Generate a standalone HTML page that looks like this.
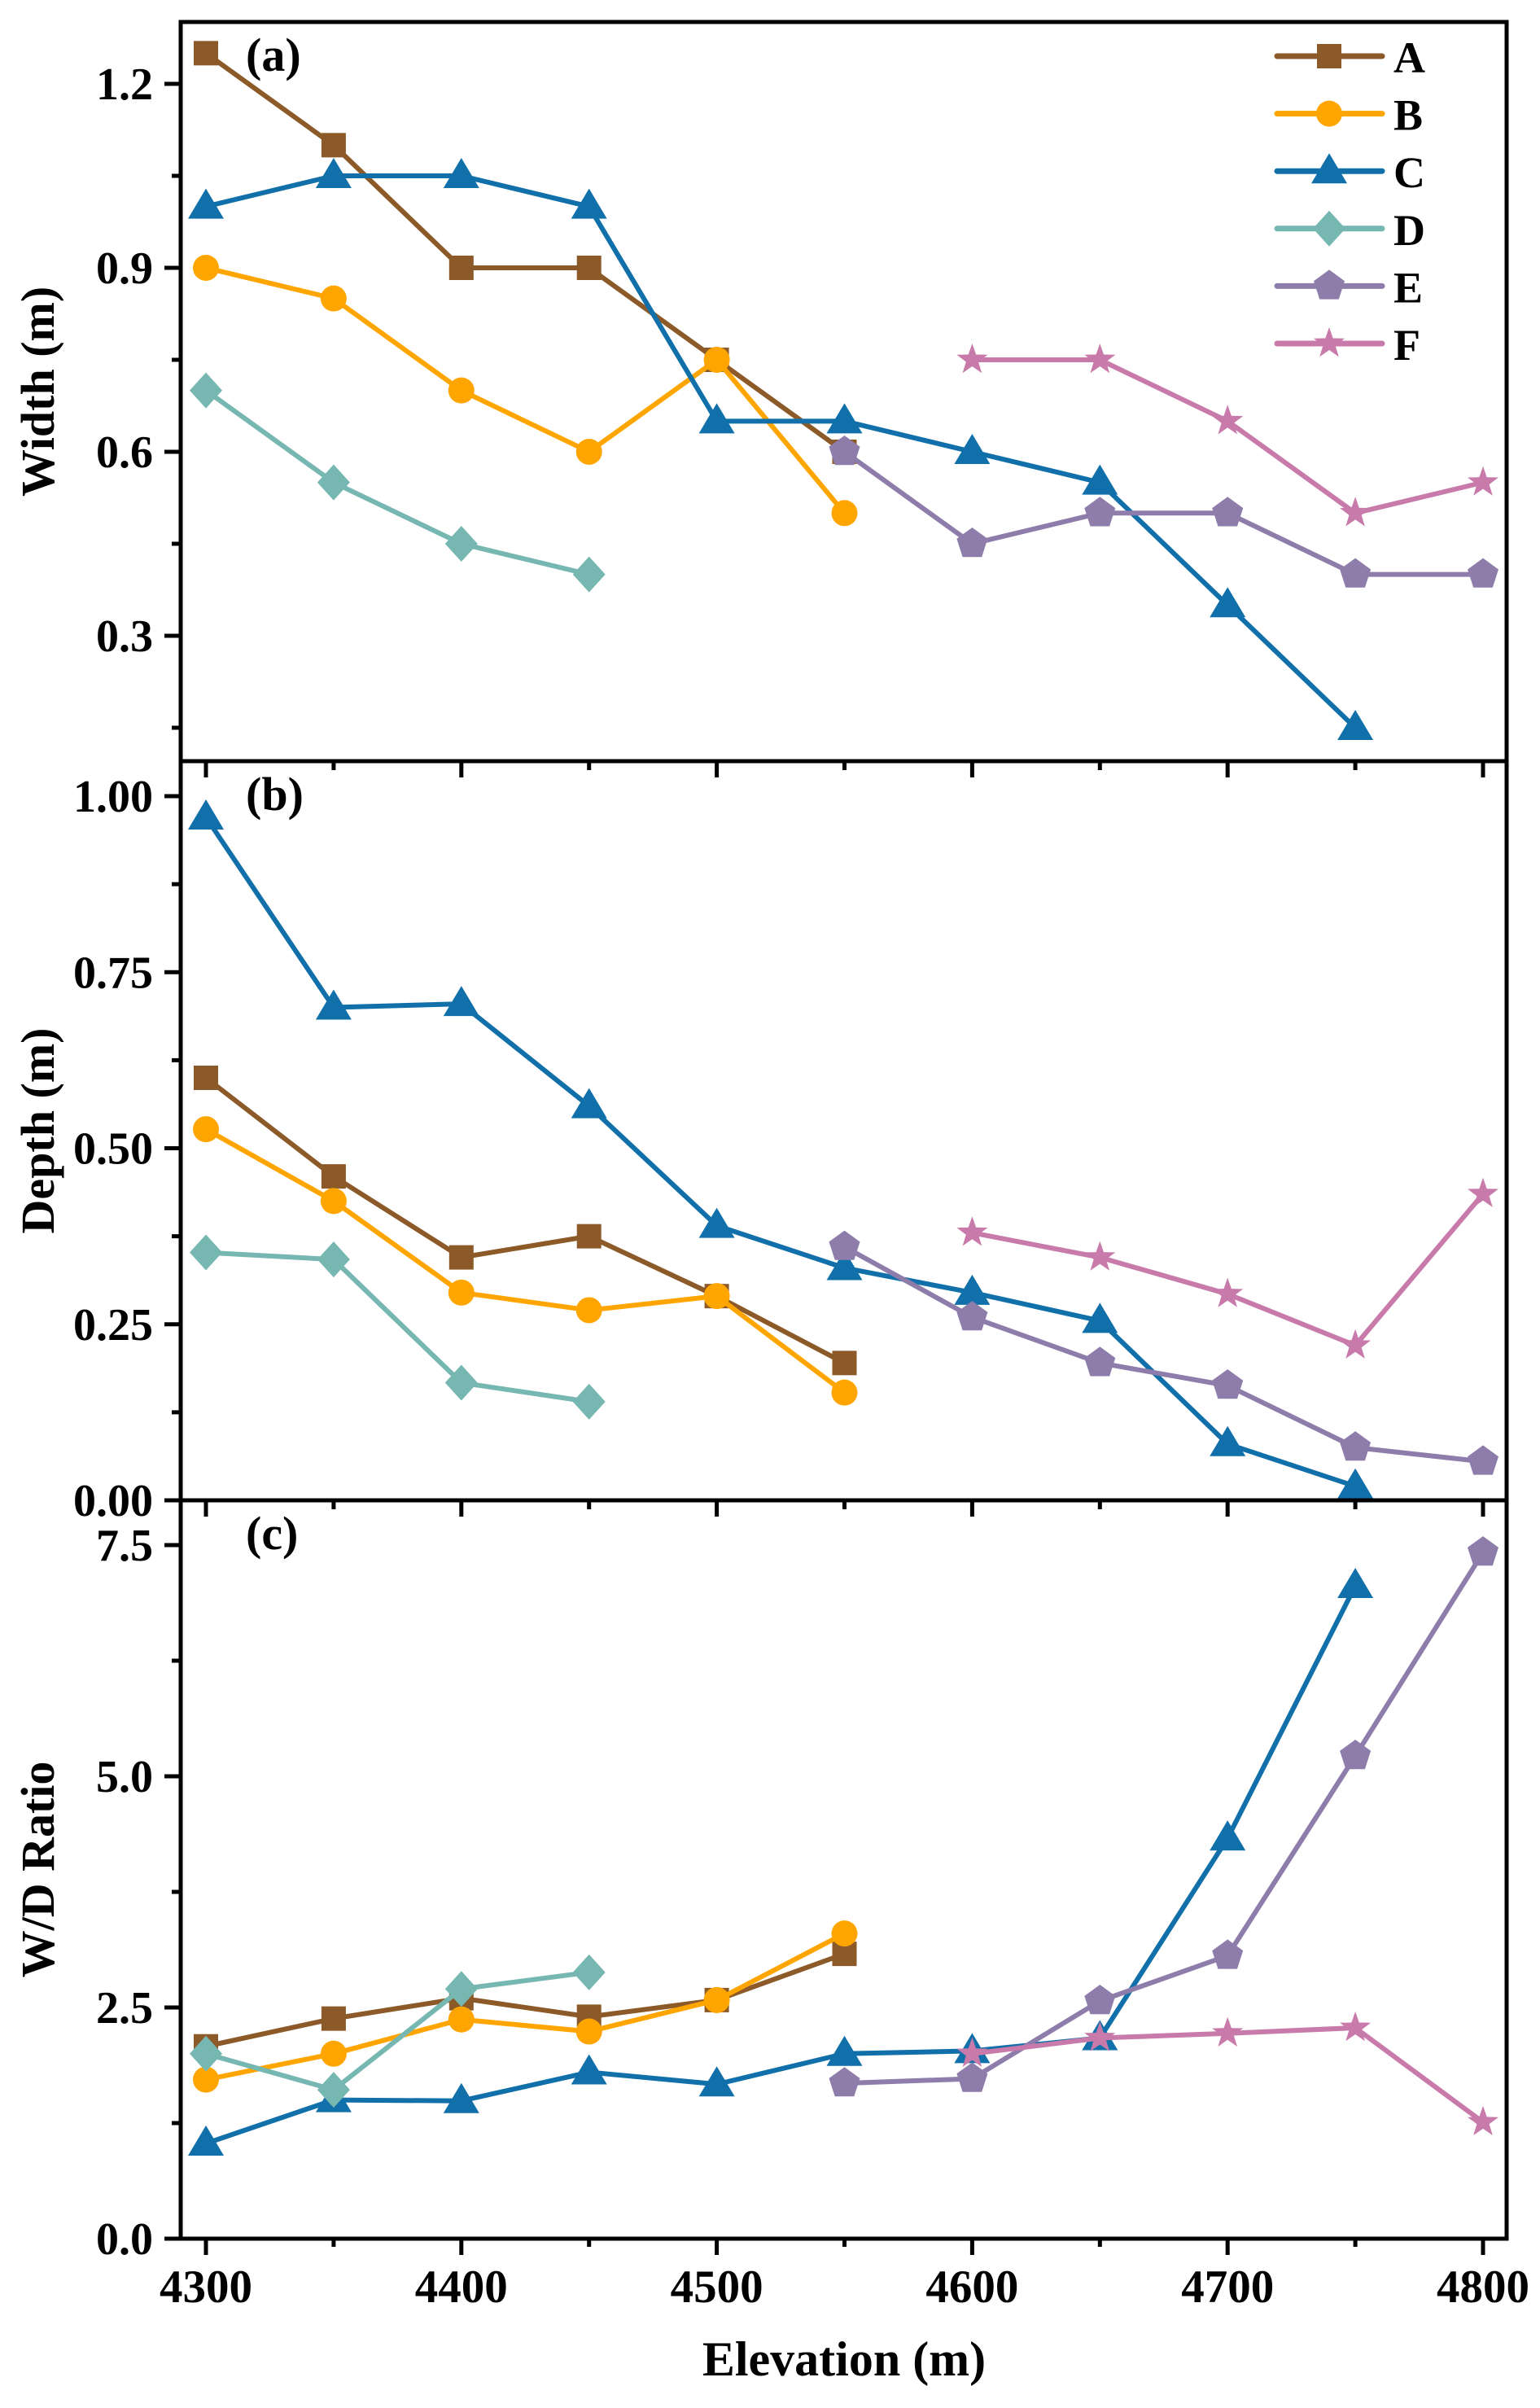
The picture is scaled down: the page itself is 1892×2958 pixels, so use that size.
<!DOCTYPE html>
<html><head><meta charset="utf-8"><style>
html,body{margin:0;padding:0;background:#fff;}
svg{display:block;font-family:"Liberation Serif",serif;font-weight:bold;}
</style></head><body>
<svg id="chart" width="1892" height="2958" viewBox="0 0 1892 2958" xmlns="http://www.w3.org/2000/svg"></svg>
<script>
const xCats = [4300,4350,4400,4450,4500,4550,4600,4650,4700,4750,4800];
const xTicks = [4300,4400,4500,4600,4700,4800];
// Width (m)
const wA = [1.25,1.10,0.90,0.90,0.75,0.60,null,null,null,null,null];
const wB = [0.90,0.85,0.70,0.60,0.75,0.50,null,null,null,null,null];
const wC = [1.00,1.05,1.05,1.00,0.65,0.65,0.60,0.55,0.35,0.15,null];
const wD = [0.70,0.55,0.45,0.40,null,null,null,null,null,null,null];
const wE = [null,null,null,null,null,0.60,0.45,0.50,0.50,0.40,0.40];
const wF = [null,null,null,null,null,null,0.75,0.75,0.65,0.50,0.55];
// Depth (m)
const dA = [0.60,0.46,0.345,0.375,0.29,0.195,null,null,null,null,null];
const dB = [0.527,0.425,0.295,0.27,0.29,0.153,null,null,null,null,null];
const dC = [0.97,0.70,0.705,0.56,0.39,0.33,0.295,0.255,0.08,0.02,null];
const dD = [0.352,0.342,0.167,0.14,null,null,null,null,null,null,null];
const dE = [null,null,null,null,null,0.36,0.26,0.195,0.163,0.075,0.055];
const dF = [null,null,null,null,null,null,0.38,0.345,0.293,0.22,0.435];
// W/D ratio
const rA = [2.08,2.38,2.60,2.40,2.58,3.08,null,null,null,null,null];
const rB = [1.72,2.00,2.37,2.24,2.58,3.30,null,null,null,null,null];
const rC = [1.03,1.50,1.49,1.80,1.67,2.00,2.03,2.17,4.33,7.06,null];
const rD = [2.00,1.61,2.70,2.88,null,null,null,null,null,null,null];
const rE = [null,null,null,null,null,1.68,1.73,2.57,3.06,5.22,7.42];
const rF = [null,null,null,null,null,null,2.00,2.17,2.22,2.28,1.26];
const seriesNames = ['A','B','C','D','E','F'];
const wTicks = [0.3,0.6,0.9,1.2];
const wTickLabels = ['0.3','0.6','0.9','1.2'];
const dTicks = [0,0.25,0.5,0.75,1.0];
const dTickLabels = ['0.00','0.25','0.50','0.75','1.00'];
const rTicks = [0,2.5,5,7.5];
const rTickLabels = ['0.0','2.5','5.0','7.5'];

const NS='http://www.w3.org/2000/svg';
const svg=document.getElementById('chart');
function el(tag,attrs,parent){const e=document.createElementNS(NS,tag);for(const k in attrs)e.setAttribute(k,attrs[k]);(parent||svg).appendChild(e);return e;}
const colors=['#8C5A28','#FFA500','#1170AA','#76B7B2','#8E7DAB','#C87AAA'];
const shapes=['square','circle','triangle','diamond','pentagon','star'];
const L=222,R=1851;
const BOT=2750;
const xs=v=>253+(v-4300)*3.138;
const panels=[
 {name:'width',top:27,bot:935,y:v=>103+(1.2-v)*753.3,ticks:wTicks,labels:wTickLabels,minor:0.15,min:0.15,max:1.35,data:[wA,wB,wC,wD,wE,wF],title:'Width (m)',tag:'(a)',tagY:87,topTicks:false},
 {name:'depth',top:935,bot:1843,y:v=>1843-v*865,ticks:dTicks,labels:dTickLabels,minor:0.125,min:0,max:1.05,data:[dA,dB,dC,dD,dE,dF],title:'Depth (m)',tag:'(b)',tagY:995,topTicks:true},
 {name:'ratio',top:1843,bot:BOT,y:v=>BOT-v*113.6,ticks:rTicks,labels:rTickLabels,minor:1.25,min:0,max:7.9,data:[rA,rB,rC,rD,rE,rF],title:'W/D Ratio',tag:'(c)',tagY:1903,topTicks:true}
];
function marker(g,shape,cx,cy,c){
 let m;
 if(shape==='square')m=el('rect',{x:cx-15,y:cy-15,width:30,height:30,fill:c},g);
 else if(shape==='circle')m=el('circle',{cx:cx,cy:cy,r:16,fill:c},g);
 else if(shape==='triangle')m=el('polygon',{points:`${cx},${cy-22} ${cx+22},${cy+15} ${cx-22},${cy+15}`,fill:c},g);
 else if(shape==='diamond')m=el('polygon',{points:`${cx},${cy-22} ${cx+20},${cy} ${cx},${cy+22} ${cx-20},${cy}`,fill:c},g);
 else if(shape==='pentagon'){let p=[];for(let i=0;i<5;i++){const a=-Math.PI/2+i*2*Math.PI/5;p.push((cx+20*Math.cos(a)).toFixed(1)+','+(cy+20*Math.sin(a)).toFixed(1));}m=el('polygon',{points:p.join(' '),fill:c},g);}
 else {let p=[];for(let i=0;i<10;i++){const a=-Math.PI/2+i*Math.PI/5;const r=i%2?8:20;p.push((cx+r*Math.cos(a)).toFixed(1)+','+(cy+r*Math.sin(a)).toFixed(1));}m=el('polygon',{points:p.join(' '),fill:c},g);}
 return m;
}
panels.forEach((P,pi)=>{
 const g=el('g',{});
 
 
 P.data.forEach((arr,si)=>{
  const sg=el('g',{},g);
  
  
  let pts=[];
  arr.forEach((v,i)=>{if(v!==null)pts.push([xs(xCats[i]),P.y(v)]);});
  const line=el('polyline',{points:pts.map(p=>p.join(',')).join(' '),fill:'none',stroke:colors[si],'stroke-width':6,'stroke-linejoin':'round'},sg);
  
  
  pts.forEach(p=>{const m=marker(sg,shapes[si],p[0],p[1],colors[si]);
   
   });
 });
 const fr=el('rect',{x:L,y:P.top,width:R-L,height:P.bot-P.top,fill:'none',stroke:'#000','stroke-width':5},g);
 
 
 P.ticks.forEach((t,i)=>{
  const y=P.y(t);
  el('line',{x1:L-20,x2:L,y1:y,y2:y,stroke:'#000','stroke-width':5},g);
  const tx=el('text',{x:188,y:y+19,'text-anchor':'end','font-size':56},g);
  tx.textContent=P.labels[i];
  
  
 });
 for(let v=P.ticks[0]-P.minor;v<P.max;v+=P.minor*2){
  if(v<P.min-1e-9)continue;const y=P.y(v);
  el('line',{x1:L-11,x2:L,y1:y,y2:y,stroke:'#000','stroke-width':5},g);
 }
 if(P.topTicks){
  xTicks.forEach(t=>el('line',{x1:xs(t),x2:xs(t),y1:P.top,y2:P.top+20,stroke:'#000','stroke-width':5},g));
  xTicks.slice(0,-1).forEach(t=>el('line',{x1:xs(t+50),x2:xs(t+50),y1:P.top,y2:P.top+11,stroke:'#000','stroke-width':5},g));
 }
 const yt=el('text',{x:0,y:0,'text-anchor':'middle','font-size':58,transform:`translate(66,${(P.top+P.bot)/2}) rotate(-90)`},g);
 yt.textContent=P.title;
 
 
 const tg=el('text',{x:302,y:P.tagY,'font-size':58},g);
 tg.textContent=P.tag;
 
 
});
const xg=el('g',{});


xTicks.forEach(t=>{
 el('line',{x1:xs(t),x2:xs(t),y1:BOT,y2:BOT+20,stroke:'#000','stroke-width':5},xg);
 const tx=el('text',{x:xs(t),y:2828,'text-anchor':'middle','font-size':57},xg);
 tx.textContent=t;
 
 
});
xTicks.slice(0,-1).forEach(t=>el('line',{x1:xs(t+50),x2:xs(t+50),y1:BOT,y2:BOT+10,stroke:'#000','stroke-width':5},xg));
const xt=el('text',{x:1037,y:2918,'text-anchor':'middle','font-size':60},xg);
xt.textContent='Elevation (m)';


const lg=el('g',{});


seriesNames.forEach((n,i)=>{
 const y=69+i*70.6;
 const eg=el('g',{},lg);
 
 
 el('line',{x1:1569,x2:1698,y1:y,y2:y,stroke:colors[i],'stroke-width':7,'stroke-linecap':'round'},eg);
 marker(eg,shapes[i],1633,y,colors[i]);
 const t=el('text',{x:1712,y:y+20,'font-size':54},eg);
 t.textContent=n;
});
</script>
</body></html>
